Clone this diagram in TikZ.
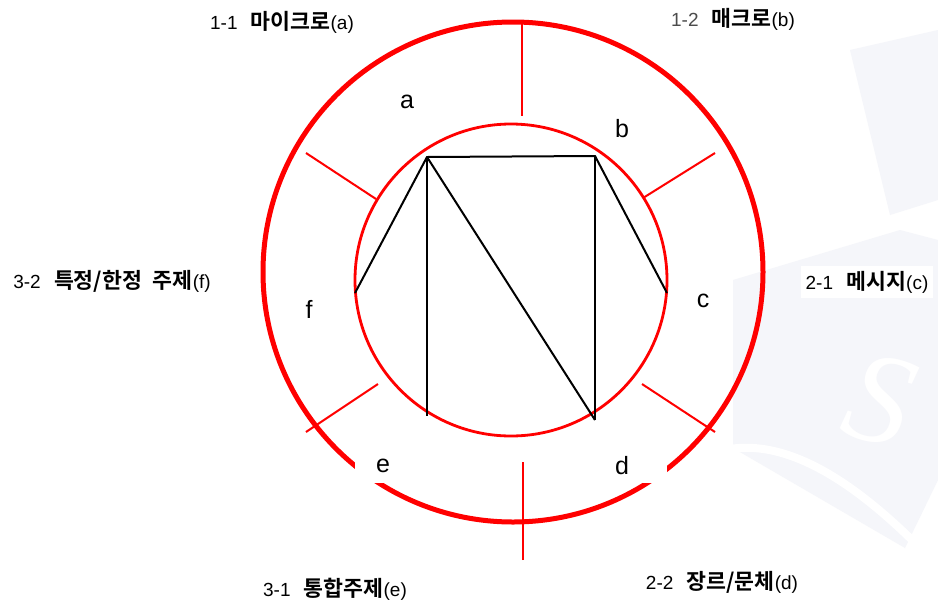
\documentclass[tikz,border=0pt]{standalone}
\usepackage{fontspec}
\setmainfont{Liberation Sans}
\newfontfamily\krb{Noto Sans CJK KR Bold}[Scale=1.14]
\newfontfamily\wmserif{Liberation Serif}
\definecolor{wm}{RGB}{245,246,250}
\tikzset{
  ring/.style={draw=red, circle, inner sep=0pt},
  tickln/.style={draw=red, line width=2pt},
  edgeln/.style={draw=black, line width=2pt},
  letter/.style={font=\fontsize{25}{25}\selectfont, inner sep=0pt},
  outlbl/.style={fill=white, font=\fontsize{19}{19}\selectfont, inner sep=5pt},
}
\begin{document}
\begin{tikzpicture}[x=1pt,y=-1pt]
\useasboundingbox (0,0) rectangle (938,606);
\fill[white] (0,0) rectangle (938,606);
% faint watermark
\begin{scope}
\clip (0,0) rectangle (938,606);
\fill[wm] (733,280) -- (900,230) -- (938,240) -- (938,480) -- (905,548) -- (733,448) -- cycle;
\fill[wm] (850,50) -- (938,30) -- (938,200) -- (890,215) -- cycle;
\draw[white, line width=8pt] (700,458) .. controls (760,430) and (830,460) .. (912,540);
\node[white, font=\fontsize{130}{130}\selectfont\wmserif\itshape, rotate=-15, inner sep=0pt] (wms) at (880,400) {S};
\end{scope}
% circles
\node[ring, line width=5pt, minimum size=500pt] (outer) at (513,272) {};
\node[ring, line width=2.8pt, minimum size=312pt] (inner) at (511,280) {};
% ticks
\coordinate (t1o) at (522,22);  \coordinate (t1i) at (522,116);
\coordinate (t2o) at (715,153); \coordinate (t2i) at (643,198);
\coordinate (t3o) at (715,432); \coordinate (t3i) at (642,384);
\coordinate (t4o) at (523,560); \coordinate (t4i) at (523,462);
\coordinate (t5o) at (306,432); \coordinate (t5i) at (378,384);
\coordinate (t6o) at (306,153); \coordinate (t6i) at (376,199);
\foreach \i in {1,...,6} {\draw[tickln] (t\i o) -- (t\i i);}
% polygon
\coordinate (va) at (427,157);
\coordinate (vb) at (595,156);
\coordinate (vc) at (667,293);
\coordinate (vd) at (595,420);
\coordinate (ve) at (427,416);
\coordinate (vf) at (355,293);
\draw[edgeln] (vf) -- (va) -- (vb) -- (vc);
\draw[edgeln] (va) -- (ve);
\draw[edgeln] (va) -- (vd);
\draw[edgeln] (vb) -- (vd);
% inner letters
\node[letter] (la) at (407,102) {a};
\node[letter] (lb) at (622,129) {b};
\node[letter] (lc) at (703,301) {c};
\node[letter, fill=white, minimum width=90pt, minimum height=34pt] (ld) at (622,466) {d};
\node[letter, fill=white, minimum width=56pt, minimum height=34pt] (le) at (383,466) {e};
\node[letter] (lf) at (309,309) {f};
% outer labels
\node[outlbl] (oa) at (282,22) {1-1\hspace{0.7em}{\krb 마이크로}(a)};
\node[outlbl, inner xsep=20pt] (ob) at (733,19) {\textcolor{black!70}{1-2}\hspace{0.7em}{\krb 매크로}(b)};
\node[outlbl] (oc) at (867,282) {2-1\hspace{0.7em}{\krb 메시지}(c)};
\node[outlbl] (od) at (722,582) {2-2\hspace{0.7em}{\krb 장르/문체}(d)};
\node[outlbl] (oe) at (335,589) {3-1\hspace{0.7em}{\krb 통합주제}(e)};
\node[outlbl] (of) at (112,281) {3-2\hspace{0.7em}{\krb 특정/한정\hspace{0.5em}주제}(f)};
\end{tikzpicture}
\end{document}
